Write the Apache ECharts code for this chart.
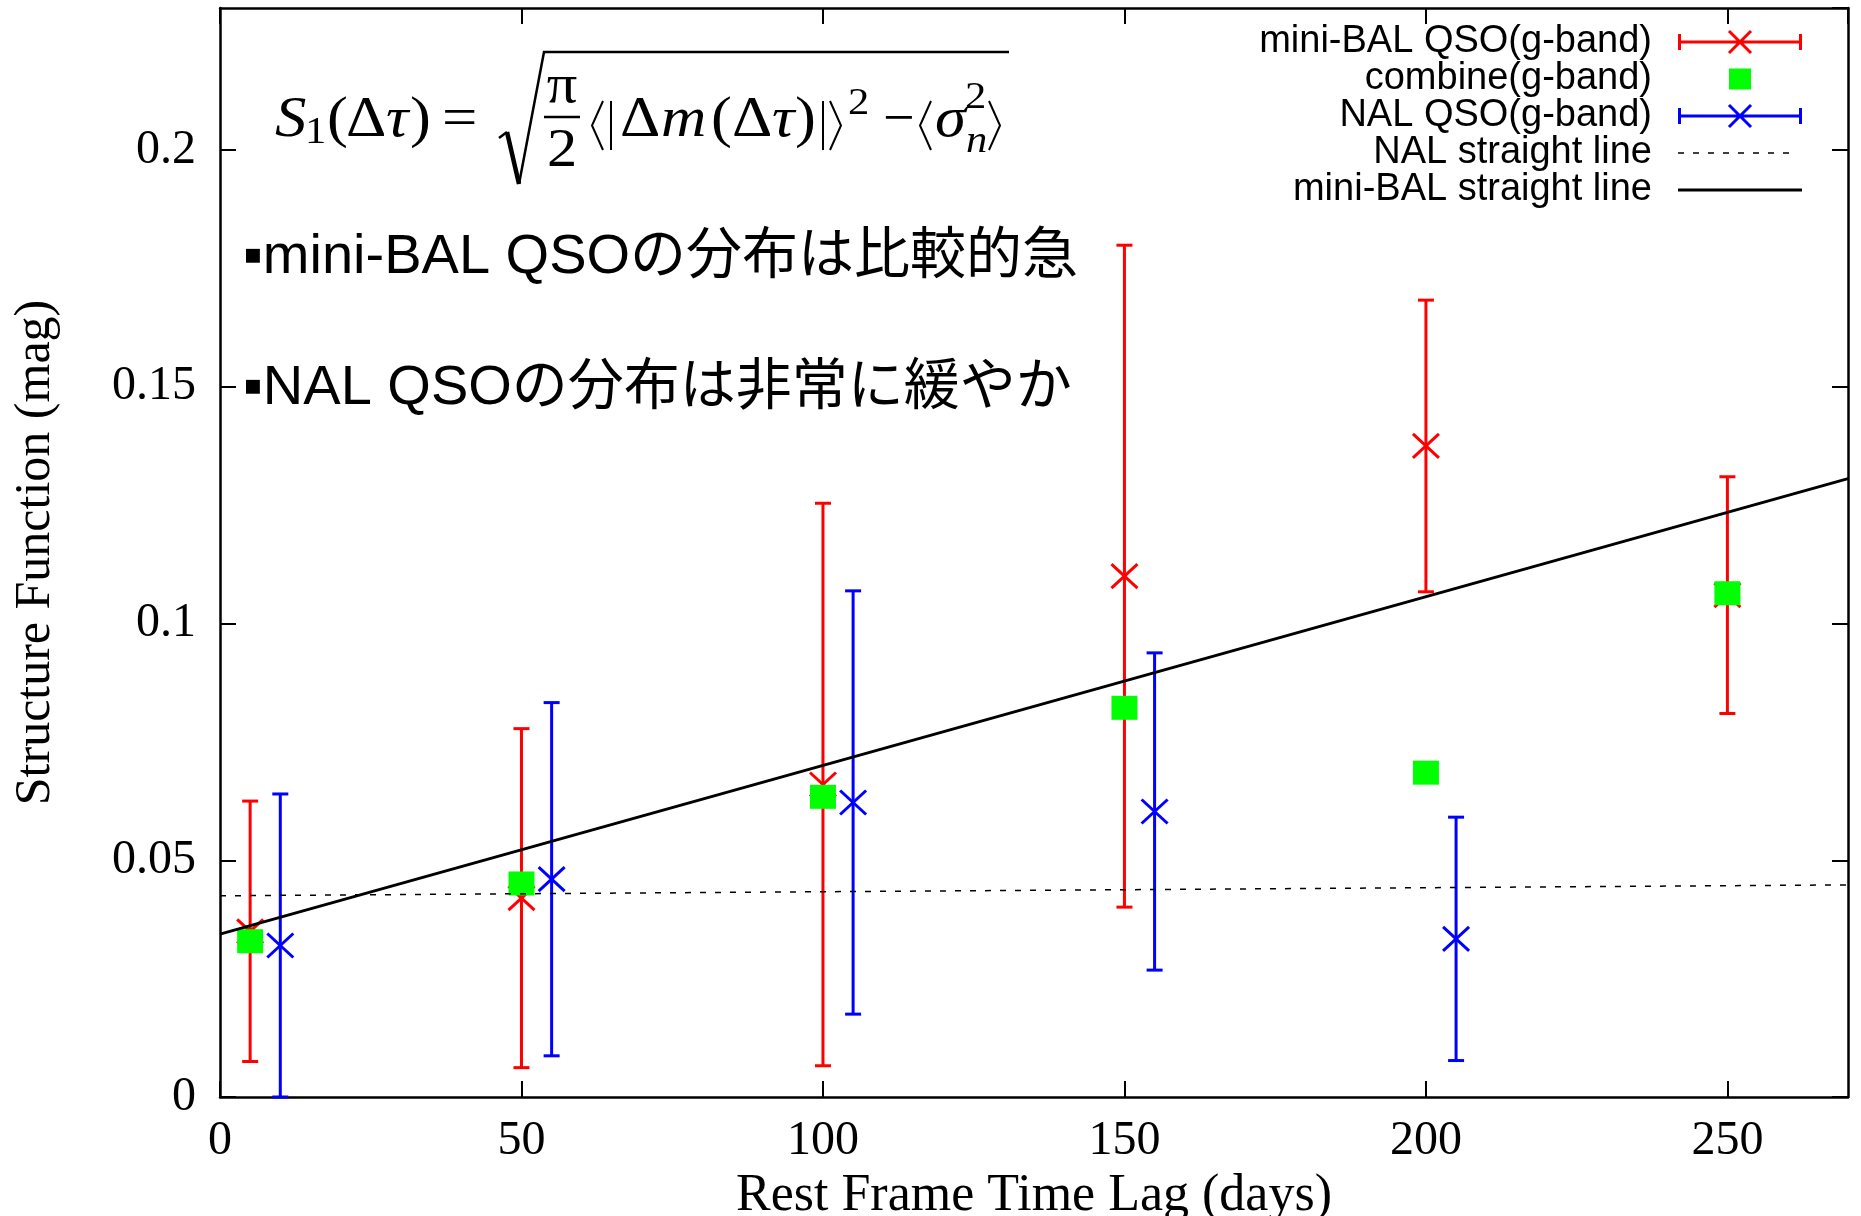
<!DOCTYPE html>
<html><head><meta charset="utf-8">
<script src="https://cdn.jsdelivr.net/npm/echarts@6/dist/echarts.min.js"></script>
<style>html,body{margin:0;padding:0;background:#fff}#c{width:1861px;height:1216px}</style>
</head><body><div id="c"></div>
<script>
// ---- data ----
const miniX = [5, 50, 100, 150, 200, 250];
const miniY = [0.035, 0.042, 0.066, 0.110, 0.1375, 0.106];
const miniErr = [0.0275, 0.0358, 0.0594, 0.0699, 0.0308, 0.025];
const combineX = [5, 50, 100, 150, 200, 250];
const combineY = [0.0329, 0.0451, 0.0634, 0.0822, 0.0685, 0.1064];
const nalX = [10, 55, 105, 155, 205];
const nalY = [0.032, 0.046, 0.0622, 0.0603, 0.0334];
const nalErr = [0.032, 0.0373, 0.0447, 0.0335, 0.0257];
const lineX = [0, 270];
const nalLineY = [0.0425, 0.0448];
const miniLineY = [0.0344, 0.1306];
const xTickLabels = ['0', '50', '100', '150', '200', '250'];
const yTickLabels = ['0', '0.05', '0.1', '0.15', '0.2'];
const seriesNames = ['mini-BAL QSO(g-band)', 'combine(g-band)', 'NAL QSO(g-band)', 'NAL straight line', 'mini-BAL straight line'];
const note1 = '▪mini-BAL QSOの分布は比較的急';
const note2 = '▪NAL QSOの分布は非常に緩やか';

// ---- helpers ----
const SERIF = '"Liberation Serif", "DejaVu Serif", serif';
const SANS = '"Liberation Sans", "Noto Sans CJK JP", sans-serif';
function rectP(x, y, w, h) { return `M${x} ${y}L${x + w} ${y}L${x + w} ${y + h}L${x} ${y + h}Z`; }
function segP(x1, y1, x2, y2, t) {
  const dx = x2 - x1, dy = y2 - y1, L = Math.hypot(dx, dy);
  const nx = -dy / L * t / 2, ny = dx / L * t / 2;
  let p = [[x1 + nx, y1 + ny], [x2 + nx, y2 + ny], [x2 - nx, y2 - ny], [x1 - nx, y1 - ny]];
  let a = 0;
  for (let i = 0; i < 4; i++) { const q = p[i], r = p[(i + 1) % 4]; a += q[0] * r[1] - r[0] * q[1]; }
  if (a < 0) p.reverse();
  return 'M' + p.map(q => q[0].toFixed(2) + ' ' + q[1].toFixed(2)).join('L') + 'Z';
}
const IW = 145, IH = 26;
const corners = `M0 0L0 0.001Z M${IW} ${IH}L${IW} ${IH - 0.001}Z`;
const errIcon = 'path://' + corners + rectP(21, 11.5, 124, 3) + rectP(21, 5, 3, 16) + rectP(142, 5, 3, 16) + segP(72, 2, 94, 24, 3) + segP(72, 24, 94, 2, 3);
const sqIcon = 'path://' + corners + rectP(72, 2.5, 22, 21);
let dashes = '';
for (let x = 21; x + 6 <= IW; x += 15) dashes += rectP(x, 12.25, 6, 1.5);
const dashIcon = 'path://' + corners + dashes;
const solidIcon = 'path://' + corners + rectP(21, 11.5, 124, 3);

function errRender(color) {
  return function (params, api) {
    const x = api.value(0), y = api.value(1), e = api.value(2);
    const pc = api.coord([x, y]), pt = api.coord([x, y + e]), pb = api.coord([x, y - e]);
    const cap = 8, mx = 13, my = 12;
    const st = { stroke: color, lineWidth: 3, fill: null };
    const L = (x1, y1, x2, y2) => ({ type: 'line', shape: { x1, y1, x2, y2 }, style: st });
    return { type: 'group', children: [
      L(pt[0], pt[1], pb[0], pb[1]),
      L(pt[0] - cap, pt[1], pt[0] + cap, pt[1]),
      L(pb[0] - cap, pb[1], pb[0] + cap, pb[1]),
      L(pc[0] - mx, pc[1] - my, pc[0] + mx, pc[1] + my),
      L(pc[0] - mx, pc[1] + my, pc[0] + mx, pc[1] - my)
    ] };
  };
}
function tickFmt(labels, step) {
  return v => { const i = Math.round(v / step); return (Math.abs(v - i * step) < 1e-9 && labels[i] !== undefined) ? labels[i] : ''; };
}
const SX = 1.12;
function T(text, x, base, size, italic, align, sx) {
  const a = align || 'left';
  return { type: 'text', silent: true, z: 50, x: x, y: 0, scaleX: sx || SX, scaleY: 1,
    style: { text, x: 0, y: base - 0.34 * size, font: (italic ? 'italic ' : '') + size + 'px ' + SERIF, fill: '#000', align: a, textAlign: a, verticalAlign: 'middle', textVerticalAlign: 'middle' } };
}
function PL(points, w) { return { type: 'polyline', silent: true, z: 50, shape: { points }, style: { stroke: '#000', lineWidth: w, fill: null, lineJoin: 'miter' } }; }

// formula pieces (annotation)
const B = 140, F = 56, FS2 = 38;
const bt = 101, bm = 125.5, bb = 150;
const formula = [
  T('S', 275, B, F, true), T('1', 305, B + 6, FS2),
  T('(', 327, B, F), T('Δ', 346, B, F), T('τ', 386, B, F, true), T(')', 410, B, F),
  T('=', 442, B, F),
  PL([[499, 138], [507, 132]], 2.5), PL([[507, 132], [519, 184]], 4.5), PL([[519, 184], [544, 52], [1009, 52]], 2.5),
  T('π', 562, 106, 54, false, 'center'), PL([[544, 117], [580, 117]], 2.5), T('2', 562, 170, 54, false, 'center'),
  PL([[603, bt], [592, bm], [603, bb]], 2), PL([[611, bt], [611, bb]], 2),
  T('Δ', 620, B, F), T('m', 661, B, F, true), T('(', 711, B, F), T('Δ', 732, B, F), T('τ', 772, B, F, true), T(')', 795, B, F),
  PL([[823, bt], [823, bb]], 2), PL([[830, bt], [841, bm], [830, bb]], 2),
  T('2', 848, 117, FS2),
  T('−', 883, B, F, false, 'left', 1.0),
  PL([[931, bt], [920, bm], [931, bb]], 2),
  T('σ', 935, B, F, true), T('2', 965, 111, FS2), T('n', 966, 155, FS2, true),
  PL([[989, bt], [1000, bm], [989, bb]], 2)
];
const notes = [
  { type: 'text', silent: true, z: 50, style: { text: note1, x: 243, y: 258, font: '56px ' + SANS, fill: '#000', align: 'left', textAlign: 'left', verticalAlign: 'middle', textVerticalAlign: 'middle' } },
  { type: 'text', silent: true, z: 50, style: { text: note2, x: 243, y: 389, font: '56px ' + SANS, fill: '#000', align: 'left', textAlign: 'left', verticalAlign: 'middle', textVerticalAlign: 'middle' } }
];

const axisLineStyle = { color: '#000', width: 2.5 };
function xAx(pos, main) {
  return {
    type: 'value', min: 0, max: 270, interval: 50, position: pos,
    name: main ? 'Rest Frame Time Lag (days)' : '', nameLocation: 'middle', nameGap: 60,
    nameTextStyle: { fontFamily: SERIF, fontSize: 52, color: '#000' },
    axisLine: { show: true, onZero: false, lineStyle: axisLineStyle },
    axisTick: { show: true, inside: true, length: 16, lineStyle: { color: '#000', width: 2 } },
    axisLabel: { show: main, fontFamily: SERIF, fontSize: 48, color: '#000', margin: 20, showMaxLabel: false, formatter: tickFmt(xTickLabels, 50) },
    splitLine: { show: false }
  };
}
function yAx(pos, main) {
  return {
    type: 'value', min: 0, max: 0.23, interval: 0.05, position: pos,
    name: main ? 'Structure Function (mag)' : '', nameLocation: 'middle', nameGap: 159,
    nameTextStyle: { fontFamily: SERIF, fontSize: 50, color: '#000' },
    axisLine: { show: true, onZero: false, lineStyle: axisLineStyle },
    axisTick: { show: true, inside: true, length: 16, lineStyle: { color: '#000', width: 2 } },
    axisLabel: { show: main, fontFamily: SERIF, fontSize: 48, color: '#000', margin: 24, showMaxLabel: false, formatter: tickFmt(yTickLabels, 0.05) },
    splitLine: { show: false }
  };
}

const chart = echarts.init(document.getElementById('c'), null, { renderer: 'canvas' });
chart.setOption({
  animation: false,
  backgroundColor: '#fff',
  grid: { left: 220, right: 13, top: 8, bottom: 119, containLabel: false, outerBoundsMode: 'none' },
  xAxis: [xAx('bottom', true), xAx('top', false)],
  yAxis: [yAx('left', true), yAx('right', false)],
  legend: {
    orient: 'vertical', right: 59, top: 23, align: 'right', padding: 0, itemGap: -1,
    itemWidth: IW, itemHeight: IH, selectedMode: false,
    textStyle: { fontFamily: SANS, fontSize: 38, color: '#000' },
    itemStyle: { borderWidth: 0 },
    data: [
      { name: seriesNames[0], icon: errIcon, itemStyle: { color: '#ff0000', borderWidth: 0 } },
      { name: seriesNames[1], icon: sqIcon, itemStyle: { color: '#00ff00', borderWidth: 0, opacity: 1 } },
      { name: seriesNames[2], icon: errIcon, itemStyle: { color: '#0000ff', borderWidth: 0 } },
      { name: seriesNames[3], icon: dashIcon, itemStyle: { color: '#000000', borderWidth: 0 } },
      { name: seriesNames[4], icon: solidIcon, itemStyle: { color: '#000000', borderWidth: 0 } }
    ]
  },
  graphic: { elements: formula.concat(notes) },
  series: [
    {
      name: seriesNames[0], type: 'custom', z: 2, itemStyle: { color: '#ff0000' },
      encode: { x: 0, y: 1 },
      data: miniX.map((x, i) => [x, miniY[i], miniErr[i]]),
      renderItem: errRender('#ff0000')
    },
    {
      name: seriesNames[1], type: 'scatter', z: 3, symbol: 'rect', symbolSize: [26, 24],
      itemStyle: { color: '#00ff00', opacity: 1 },
      data: combineX.map((x, i) => [x, combineY[i]])
    },
    {
      name: seriesNames[2], type: 'custom', z: 4, itemStyle: { color: '#0000ff' },
      encode: { x: 0, y: 1 },
      data: nalX.map((x, i) => [x, nalY[i], nalErr[i]]),
      renderItem: errRender('#0000ff')
    },
    {
      name: seriesNames[3], type: 'line', z: 5, showSymbol: false, symbol: 'none',
      lineStyle: { color: '#000', width: 1.5, type: [6, 9] }, itemStyle: { color: '#000' },
      data: lineX.map((x, i) => [x, nalLineY[i]])
    },
    {
      name: seriesNames[4], type: 'line', z: 6, showSymbol: false, symbol: 'none',
      lineStyle: { color: '#000', width: 3 }, itemStyle: { color: '#000' },
      data: lineX.map((x, i) => [x, miniLineY[i]])
    }
  ]
});
</script></body></html>
